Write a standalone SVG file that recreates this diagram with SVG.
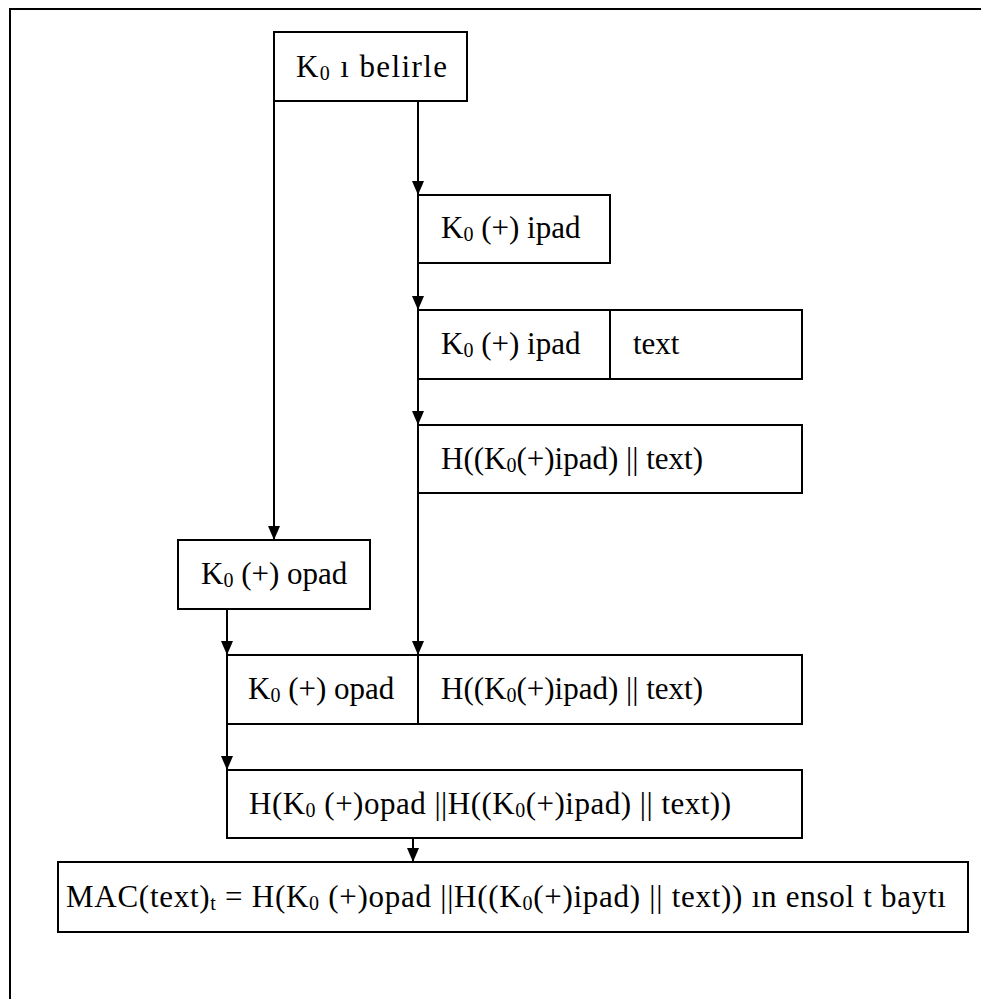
<svg xmlns="http://www.w3.org/2000/svg" width="981" height="999" viewBox="0 0 981 999">
<defs>
<style>
.box{fill:#fff;stroke:#000;stroke-width:2}
.ln{stroke:#000;stroke-width:2;fill:none}
.t{font-family:"Liberation Serif","Times New Roman","DejaVu Serif",serif;font-size:31px;fill:#000}
.s{font-size:20px}
</style>
<marker id="ah" markerUnits="userSpaceOnUse" markerWidth="14" markerHeight="12" refX="14" refY="6" orient="auto" viewBox="0 0 14 12">
<path d="M0,0 L14,6 L0,12 z" fill="#000"/>
</marker>
</defs>
<rect width="981" height="999" fill="#fff"/>
<rect x="10" y="9" width="1000" height="1000" class="ln"/>
<g id="connectors">
<line x1="274" y1="101" x2="274" y2="540" class="ln" marker-end="url(#ah)"/>
<line x1="418" y1="101" x2="418" y2="195" class="ln" marker-end="url(#ah)"/>
<line x1="418" y1="263" x2="418" y2="310" class="ln" marker-end="url(#ah)"/>
<line x1="418" y1="379" x2="418" y2="425" class="ln" marker-end="url(#ah)"/>
<line x1="418" y1="493" x2="418" y2="655" class="ln" marker-end="url(#ah)"/>
<line x1="227" y1="609" x2="227" y2="655" class="ln" marker-end="url(#ah)"/>
<line x1="227" y1="724" x2="227" y2="770" class="ln" marker-end="url(#ah)"/>
<line x1="413" y1="838" x2="413" y2="862" class="ln" marker-end="url(#ah)"/>
</g>
<g id="n1">
<rect x="274" y="32" width="193" height="69" class="box"/>
<text x="296" y="77" class="t" textLength="151" lengthAdjust="spacing">K<tspan class="s" dy="3">0</tspan><tspan dy="-3"> ı belirle</tspan></text>
</g>
<g id="n2">
<rect x="418" y="195" width="192" height="68" class="box"/>
<text x="441" y="238" class="t">K<tspan class="s" dy="3">0</tspan><tspan dy="-3"> (+) ipad</tspan></text>
</g>
<g id="n3">
<rect x="418" y="310" width="384" height="69" class="box"/>
<line x1="610" y1="310" x2="610" y2="379" class="ln"/>
<text x="441" y="354" class="t">K<tspan class="s" dy="3">0</tspan><tspan dy="-3"> (+) ipad</tspan></text>
<text x="633" y="354" class="t">text</text>
</g>
<g id="n4">
<rect x="418" y="425" width="384" height="68" class="box"/>
<text x="441" y="469" class="t">H((K<tspan class="s" dy="3">0</tspan><tspan dy="-3">(+)ipad) || text)</tspan></text>
</g>
<g id="n5">
<rect x="178" y="540" width="192" height="69" class="box"/>
<text x="201" y="584" class="t">K<tspan class="s" dy="3">0</tspan><tspan dy="-3"> (+) opad</tspan></text>
</g>
<g id="n6">
<rect x="227" y="655" width="575" height="69" class="box"/>
<line x1="418" y1="655" x2="418" y2="724" class="ln"/>
<text x="248" y="699" class="t">K<tspan class="s" dy="3">0</tspan><tspan dy="-3"> (+) opad</tspan></text>
<text x="441" y="699" class="t">H((K<tspan class="s" dy="3">0</tspan><tspan dy="-3">(+)ipad) || text)</tspan></text>
</g>
<g id="n7">
<rect x="227" y="770" width="575" height="68" class="box"/>
<text x="249" y="814" class="t" textLength="482" lengthAdjust="spacing">H(K<tspan class="s" dy="3">0</tspan><tspan dy="-3"> (+)opad ||H((K</tspan><tspan class="s" dy="3">0</tspan><tspan dy="-3">(+)ipad) || text))</tspan></text>
</g>
<g id="n8">
<rect x="58" y="862" width="910" height="70" class="box"/>
<text x="66" y="907" class="t" textLength="880" lengthAdjust="spacing">MAC(text)<tspan class="s" dy="3">t</tspan><tspan dy="-3"> = H(K</tspan><tspan class="s" dy="3">0</tspan><tspan dy="-3"> (+)opad ||H((K</tspan><tspan class="s" dy="3">0</tspan><tspan dy="-3">(+)ipad) || text)) ın ensol t baytı</tspan></text>
</g>
</svg>
